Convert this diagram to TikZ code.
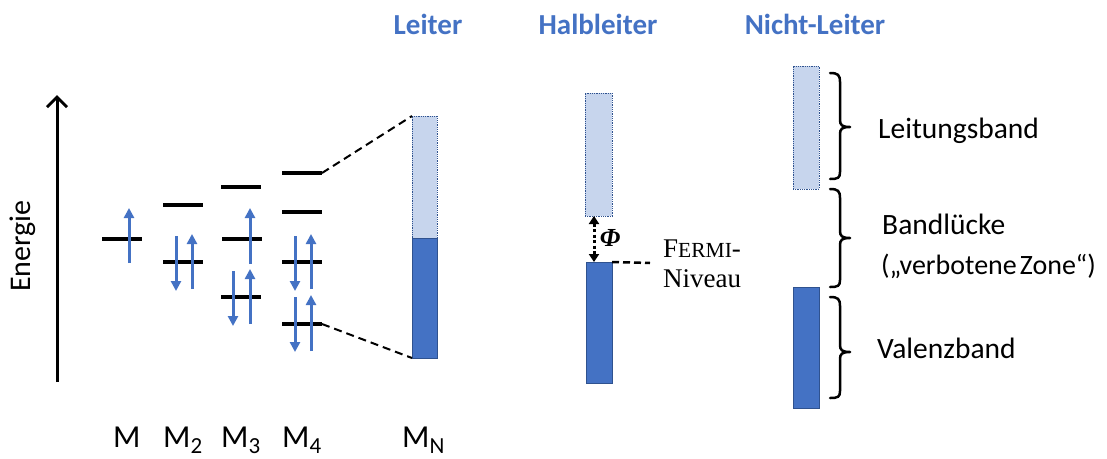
\documentclass[tikz,border=0pt]{standalone}
\usepackage{fontspec}
\setmainfont{Carlito}
\newfontfamily\seriffam{Liberation Serif}
\usetikzlibrary{arrows.meta}
\definecolor{acc}{HTML}{4472C4}
\definecolor{accd}{HTML}{2F528F}
\definecolor{accl}{HTML}{C7D5ED}
\tikzset{
  level/.style={fill=black,draw=none,minimum width=40pt,minimum height=3.5pt,inner sep=0pt,outer sep=0pt},
  spin/.style={acc,line width=3pt,-{Triangle[width=10pt,length=10pt]}},
  bandlight/.style={fill=accl,draw=accd,densely dotted,line width=0.8pt,inner sep=0pt,outer sep=0pt},
  banddark/.style={fill=acc,draw=accd,line width=0.8pt,inner sep=0pt,outer sep=0pt},
  title/.style={font=\fontsize{29}{32}\selectfont\bfseries,text=acc,anchor=base,inner sep=0pt},
  lbl/.style={font=\fontsize{29.5}{32}\selectfont,anchor=base west,inner sep=0pt},
  mlbl/.style={font=\fontsize{32}{34}\selectfont,anchor=base west,inner sep=0pt},
  connector/.style={dashed,line width=2pt,dash pattern=on 8pt off 5pt},
  bracepath/.style={line width=2.5pt,line cap=round},
}
\newcommand{\msub}[1]{\raisebox{-6pt}{\fontsize{23}{23}\selectfont #1}}
\begin{document}
\begin{tikzpicture}[x=1pt,y=-1pt]
\useasboundingbox (0,0) rectangle (1107,458);

% energy axis
\coordinate (ax0) at (57,382);
\coordinate (ax1) at (57,95);
\draw[line width=3pt,-{Straight Barb[length=10pt,width=20pt,line width=3pt]}] (ax0) -- (ax1);
\node[font=\fontsize{30}{32}\selectfont,rotate=90,inner sep=0pt] (energie) at (23,246) {Energie};

% levels
\node[level] (m1) at (122,239) {};
\node[level] (m2a) at (183,205) {};
\node[level] (m2b) at (183,262) {};
\node[level] (m3a) at (241,187) {};
\node[level] (m3b) at (242,239) {};
\node[level] (m3c) at (241,297) {};
\node[level] (m4a) at (302,173) {};
\node[level] (m4b) at (302,212) {};
\node[level] (m4c) at (302,262) {};
\node[level] (m4d) at (302,324) {};

% spins
\draw[spin] (129,263) -- (129,208);
\draw[spin] (176,236) -- (176,291);
\draw[spin] (192,289) -- (192,234);
\draw[spin] (250,264) -- (250,208);
\draw[spin] (233,271) -- (233,326);
\draw[spin] (250,324) -- (250,269);
\draw[spin] (295,236) -- (295,291);
\draw[spin] (311,289) -- (311,234);
\draw[spin] (295,297) -- (295,352);
\draw[spin] (311,351) -- (311,295);

% Leiter band
\node[bandlight,minimum width=25pt,minimum height=122pt] (mnU) at (424.5,177) {};
\node[banddark,minimum width=25pt,minimum height=120pt] (mnL) at (424.5,298) {};
\draw[connector] (m4a.east) -- (mnU.north west);
\draw[connector] (m4d.east) -- (mnL.south west);

% Halbleiter
\node[bandlight,minimum width=27pt,minimum height=123pt] (hU) at (598.5,154.5) {};
\node[banddark,minimum width=26pt,minimum height=121pt] (hL) at (599,322.5) {};
\draw[line width=3pt,dash pattern=on 3pt off 2.5pt,{Triangle[width=10pt,length=8pt]}-{Triangle[width=10pt,length=8pt]}] ([xshift=-4.5pt]hU.south) -- ([xshift=-5pt]hL.north);
\node[font=\seriffam\fontsize{26}{28}\selectfont\bfseries\itshape,inner sep=0pt] (phi) at (610,238) {Φ};
\coordinate (fe) at (650,263);
\draw[line width=2.5pt,dash pattern=on 7pt off 4pt] (hL.north east) -- (fe);
\node[font=\seriffam\fontsize{27}{28}\selectfont,anchor=base west,inner sep=0pt] (fermi) at (663,257) {F{\fontsize{21.5}{22}\selectfont ERMI}-};
\node[font=\seriffam\fontsize{27}{28}\selectfont,anchor=base west,inner sep=0pt] (niveau) at (663,287) {Niveau};

% Nicht-Leiter
\node[bandlight,minimum width=26pt,minimum height=123pt] (nU) at (806,127.5) {};
\node[banddark,minimum width=26pt,minimum height=121pt] (nL) at (806,347.5) {};

% braces
\draw[bracepath] (830,73) .. controls (838,73) and (840,75) .. (840,82) -- (840,120) .. controls (840,125) and (842,127) .. (850,127)
  (850,127) .. controls (842,127) and (840,129) .. (840,134) -- (840,172) .. controls (840,178) and (838,179) .. (830,179);
\draw[bracepath] (830,189) .. controls (838,189) and (840,191) .. (840,198) -- (840,231) .. controls (840,236) and (842,238) .. (850,238)
  (850,238) .. controls (842,238) and (840,240) .. (840,245) -- (840,280) .. controls (840,286) and (838,287) .. (830,287);
\draw[bracepath] (830,297) .. controls (838,297) and (840,299) .. (840,306) -- (840,345) .. controls (840,350) and (842,352) .. (850,352)
  (850,352) .. controls (842,352) and (840,354) .. (840,359) -- (840,391) .. controls (840,397) and (838,398) .. (830,398);

\node[lbl] (lb) at (878,138) {Leitungsband};
\node[lbl] (bl) at (882,234) {Bandlücke};
\node[lbl,font=\fontsize{28}{30}\selectfont] (vz) at (881,274) {(„verbotene\hspace{3pt}Zone“)};
\node[lbl] (vb) at (877,358) {Valenzband};

% titles
\node[title] (t1) at (428,34) {Leiter};
\node[title] (t2) at (598,34) {Halbleiter};
\node[title] (t3) at (815,34) {Nicht-Leiter};

% M labels
\node[mlbl] (l1) at (113,447) {M};
\node[mlbl] (l2) at (163,447) {M\msub{2}};
\node[mlbl] (l3) at (221,447) {M\msub{3}};
\node[mlbl] (l4) at (282,447) {M\msub{4}};
\node[mlbl] (l5) at (402,447) {M\msub{N}};
\end{tikzpicture}
\end{document}
